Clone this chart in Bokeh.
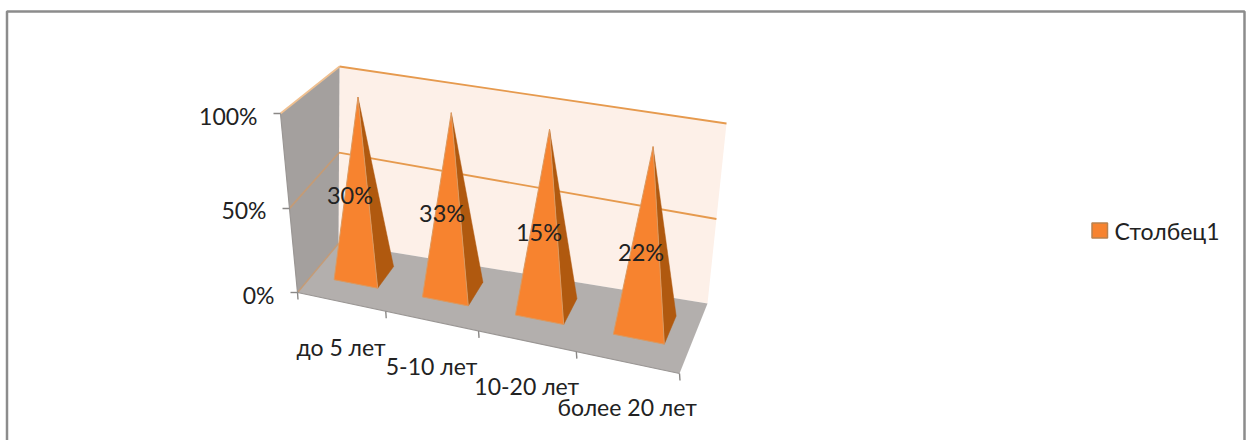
from bokeh.plotting import figure
from bokeh.embed import file_html
from bokeh.resources import INLINE
from bokeh.core.properties import value

categories = ["до 5 лет", "5-10 лет", "10-20 лет", "более 20 лет"]
share_labels = ["30%", "33%", "15%", "22%"]
heights = [99, 99, 99, 99]
y_ticks = [0, 50, 100]
y_tick_labels = ["0%", "50%", "100%"]
series_name = "Столбец1"

FONT = value("Lato")
TXT = "#222222"
ORANGE = "#F7832F"
DARK = "#B0590F"
LINE = "#E69A4E"
SIDE_LINE = "#C49B76"

# Screen geometry: the eight corners of the chart's box, used as a 3D projection
FLB, FRB, BLB, BRB = (297, 292), (679, 373), (338, 243), (707, 303)
FLT, FRT, BLT, BRT = (280, 113), (683, 190), (339, 66), (726, 123)
PERSPECTIVE_U = 1.11


def project(u, d, pct):
    """category position u (0..n), depth d (0 front..1 back), value pct (0..100)"""
    a = u / len(categories)
    a = a / (a + PERSPECTIVE_U * (1 - a))
    r = 1.13 * (1 - d) + d * (0.95 * (1 - a) + 1.13 * a)
    b = pct / 100
    b = b / (b + r * (1 - b))
    out = []
    for k in (0, 1):
        bottom = (1 - d) * ((1 - a) * FLB[k] + a * FRB[k]) + d * ((1 - a) * BLB[k] + a * BRB[k])
        top = (1 - d) * ((1 - a) * FLT[k] + a * FRT[k]) + d * ((1 - a) * BLT[k] + a * BRT[k])
        out.append((1 - b) * bottom + b * top)
    return out


def poly(points):
    pts = [project(*q) for q in points]
    return [q[0] for q in pts], [q[1] for q in pts]


W, H = 1249, 440
p = figure(width=W, height=H, x_range=(0, W), y_range=(H, 0),
           output_backend="svg", toolbar_location=None, min_border=0,
           background_fill_color="white", border_fill_color="white")
p.xaxis.visible = False
p.yaxis.visible = False
p.grid.visible = False
p.outline_line_color = None

n = len(categories)

# outer frame (its lower edge lies below the picture)
p.quad(left=[6.5], right=[1244], top=[11], bottom=[450], fill_color=None,
       line_color="#8C8C8C", line_width=2.5)

# back wall
xs, ys = poly([(0, 1, 0), (n, 1, 0), (n, 1, 100), (0, 1, 100)])
p.patch(xs, ys, fill_color="#FDF0E8", line_color=None)

# side wall
xs, ys = poly([(0, 0, 0), (0, 1, 0), (0, 1, 100), (0, 0, 100)])
p.patch(xs, ys, fill_color="#A4A09E", line_color=None)

# floor
xs, ys = poly([(0, 0, 0), (n, 0, 0), (n, 1, 0), (0, 1, 0)])
p.patch(xs, ys, fill_color="#B3AFAD", line_color=None)
xs, ys = poly([(0, 0, 0), (0, 1, 0)])
p.line(xs, ys, line_color=SIDE_LINE, line_width=1.5)

# gridlines
for t in y_ticks[1:]:
    xs, ys = poly([(0, 0, t), (0, 1, t)])
    p.line(xs, ys, line_color=SIDE_LINE if t < 100 else "#F0C090", line_width=1.8)
    xs, ys = poly([(0, 1, t), (n, 1, t)])
    p.line(xs, ys, line_color=LINE, line_width=1.8)

# axis lines and ticks
xs, ys = poly([(0, 0, 0), (n, 0, 0)])
p.line(xs, ys, line_color="#9A9694", line_width=1.2)
xs, ys = poly([(0, 0, 0), (0, 0, 100)])
p.line(xs, ys, line_color="#9A9694", line_width=1.2)
for t in y_ticks:
    x, y = project(0, 0, t)
    p.segment([x - 7], [y], [x], [y], line_color="#8A8886", line_width=1.4)
for i in range(n + 1):
    x, y = project(i, 0, 0)
    p.segment([x], [y], [x + 0.5], [y + 7], line_color="#8A8886", line_width=1.4)

# pyramids
U0, U1, D0, D1 = 0.26, 0.76, 0.35, 0.76
APEX_U, APEX_D = 0.50, 0.55
for i, h in enumerate(heights):
    apex = (i + APEX_U, APEX_D, h)
    fl, fr, rb = (i + U0, D0, 0), (i + U1, D0, 0), (i + U1, D1, 0)
    xs, ys = poly([fr, rb, apex])
    p.patch(xs, ys, fill_color=DARK, line_color=DARK, line_width=0.5)
    xs, ys = poly([fl, fr, apex])
    p.patch(xs, ys, fill_color=ORANGE, line_color="#DA9A62", line_width=1)

# data labels
for i, s in enumerate(share_labels):
    x, y = project(i + 0.52, 0.3, 53)
    p.text([x], [y], text=[s], text_font=FONT, text_font_size="23.5px", text_color=TXT,
           text_align="center", text_baseline="middle")

# value-axis labels
for t, s in zip(y_ticks, y_tick_labels):
    x, y = project(0, 0, t)
    p.text([x - 23], [y + 2], text=[s], text_font=FONT, text_font_size="23px", text_color=TXT,
           text_align="right", text_baseline="middle")

# category labels
for i, s in enumerate(categories):
    x, y = project(i + 0.5, 0, 0)
    p.text([x], [y + 45], text=[s], text_font=FONT, text_font_size="23px", text_color=TXT,
           text_align="center", text_baseline="middle")

# legend
p.quad(left=[1091.5], right=[1107], top=[222.5], bottom=[237.5], fill_color=ORANGE,
       line_color="#B9824F", line_width=1.5)
p.text([1114], [230], text=[series_name], text_font=FONT, text_font_size="23px", text_color=TXT,
       text_align="left", text_baseline="middle")

open("out.html", "w").write(file_html(p, INLINE))
